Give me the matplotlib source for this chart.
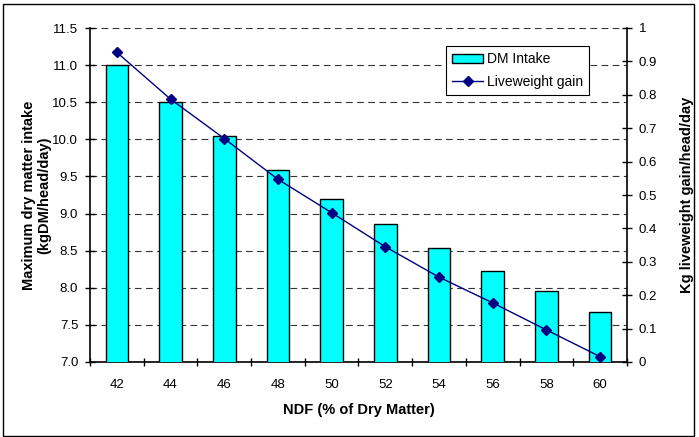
#!/usr/bin/env python3

import numpy as np
import matplotlib
matplotlib.use("Agg")
import matplotlib.pyplot as plt
from matplotlib.patches import Rectangle

# Data ---------------------------------------------------------------------------------------------
ndf        = [42, 44, 46, 48, 50, 52, 54, 56, 58, 60]
dm_intake  = [11.0, 10.5, 10.05, 9.59, 9.2, 8.86, 8.54, 8.22, 7.95, 7.68]
lw_gain    = [0.927, 0.787, 0.669, 0.547, 0.447, 0.345, 0.254, 0.177, 0.096, 0.016]
left_ticks = [7.0, 7.5, 8.0, 8.5, 9.0, 9.5, 10.0, 10.5, 11.0, 11.5]
right_ticks = [0, 0.1, 0.2, 0.3, 0.4, 0.5, 0.6, 0.7, 0.8, 0.9, 1]

# Plot ---------------------------------------------------------------------------------------------
plt.rcParams['font.family'] = ['Liberation Sans', 'DejaVu Sans']
plt.rcParams['font.size']   = 9.5

fig = plt.figure(figsize=(6.99, 4.37), dpi=100)
ax  = fig.add_axes([90/699, 75/437, 537/699, 334/437])

x = np.arange(len(ndf))
ax.bar(x, dm_intake, width=0.42, color='#00FFFF', edgecolor='black', linewidth=1,
       label='DM Intake', zorder=3)

ax.set_xlim(-0.5, len(ndf) - 0.5)
ax.set_ylim(7.0, 11.5)
ax.set_yticks(left_ticks)
ax.set_yticklabels([f'{v:.1f}' for v in left_ticks])
ax.yaxis.grid(True, color='black', linestyle=(0, (6, 4)), linewidth=0.8, alpha=0.8)
ax.set_axisbelow(True)

# Category labels without marks, marks between categories
ax.set_xticks(x)
ax.set_xticklabels([str(v) for v in ndf])
ax.tick_params(axis='x', which='major', length=0, pad=12)
ax.set_xticks(np.arange(-0.5, len(ndf)), minor=True)
ax.tick_params(axis='x', which='minor', length=6, direction='inout', width=1)
ax.tick_params(axis='y', length=7, direction='inout', width=1, pad=5)

for side in ['top', 'right']:
    ax.spines[side].set_visible(False)
ax.spines['left'].set_linewidth(1.2)
ax.spines['bottom'].set_linewidth(1.2)

ax.set_xlabel('NDF (% of Dry Matter)', fontweight='bold', fontsize=10.5, labelpad=9)
ax.set_ylabel('Maximum dry matter intake\n(kgDM/head/day)', fontweight='bold',
              fontsize=10.5, labelpad=1, linespacing=1.05)

ax2 = ax.twinx()
ax2.plot(x, lw_gain, color='#000080', linewidth=1, marker='D', markersize=5,
         label='Liveweight gain', zorder=4)
ax2.set_ylim(0, 1)
ax2.set_yticks(right_ticks)
ax2.set_yticklabels(['0', '0.1', '0.2', '0.3', '0.4', '0.5', '0.6', '0.7', '0.8', '0.9', '1'])
ax2.tick_params(axis='y', length=7, direction='inout', width=1, pad=5)
for side in ['top', 'left', 'bottom']:
    ax2.spines[side].set_visible(False)
ax2.spines['right'].set_linewidth(1.2)
ax2.set_ylabel('Kg liveweight gain/head/day', fontweight='bold', fontsize=10.5, labelpad=16)

h1, l1 = ax.get_legend_handles_labels()
h2, l2 = ax2.get_legend_handles_labels()
leg = ax2.legend(h1 + h2, l1 + l2, loc='upper left', bbox_to_anchor=(0.663, 0.946),
                 frameon=True, fancybox=False, edgecolor='black', framealpha=1,
                 borderpad=0.45, handlelength=2.2, handletextpad=0.3,
                 borderaxespad=0, labelspacing=0.6, fontsize=10)
leg.get_frame().set_linewidth(0.8)

# Outer chart border
fig.patches.append(Rectangle((3/699, 1/437), 691/699, 432/437, transform=fig.transFigure,
                             fill=False, edgecolor='black', linewidth=1))

fig.savefig('out.png', dpi=100)
